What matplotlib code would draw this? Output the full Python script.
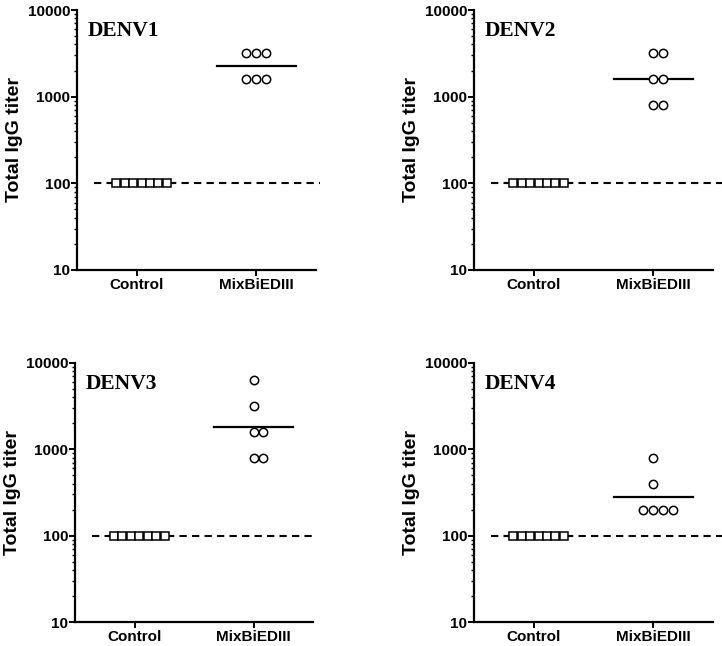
import numpy as np
import matplotlib
matplotlib.use("Agg")
import matplotlib.pyplot as plt
from matplotlib.ticker import FixedLocator, LogLocator, NullFormatter

# data
groups = ["Control", "MixBiEDIII"]
titles = ["DENV1", "DENV2", "DENV3", "DENV4"]
control = [100, 100, 100, 100, 100, 100, 100]
mix_denv1 = [3200, 3200, 3200, 1600, 1600, 1600]
mix_denv2 = [3200, 3200, 1600, 1600, 800, 800]
mix_denv3 = [6400, 3200, 1600, 1600, 800, 800]
mix_denv4 = [800, 400, 200, 200, 200, 200]
cutoff = 100

mixes = [mix_denv1, mix_denv2, mix_denv3, mix_denv4]

plt.rcParams["font.family"] = ["Liberation Sans", "DejaVu Sans"]

fig = plt.figure(figsize=(7.22, 6.46), dpi=100)
W, H = 722, 646
# axes boxes in pixels: left, top, right, bottom
boxes = [(77, 10, 316, 270), (474, 10, 713, 270),
         (75, 363, 313, 622), (474, 363, 713, 622)]
dash_end = [1.53, 2.05, 1.53, 2.05]


def spread(vals, x0, step):
    # GraphPad style: equal values spread sideways
    xs = []
    vals = list(vals)
    done = {}
    for v in vals:
        n = vals.count(v)
        k = done.get(v, 0)
        done[v] = k + 1
        xs.append(x0 + (k - (n - 1) // 2) * step)
    return xs


for i, (title, mix) in enumerate(zip(titles, mixes)):
    l, t, r, b = boxes[i]
    ax = fig.add_axes([l / W, 1 - b / H, (r - l) / W, (b - t) / H])
    ax.set_yscale("log")
    ax.set_ylim(10, 10000)
    ax.set_xlim(-0.5, 1.5)

    ax.plot([-0.36, dash_end[i]], [cutoff, cutoff], color="black", lw=1.5,
            ls=(0, (3.5, 2.5)), clip_on=False, zorder=1)

    # control squares
    xc = spread(control, 0.04, 0.071)
    ax.plot(xc, control, ls="none", marker="s", ms=5.3, mfc="white",
            mec="black", mew=1.1, zorder=3)
    gm = np.exp(np.mean(np.log(control)))
    ax.plot([0.04 - 0.27, 0.04 + 0.27], [gm, gm], color="black", lw=1.5, zorder=2)

    # immunized circles
    xm = spread(mix, 1.0, 0.083)
    ax.plot(xm, mix, ls="none", marker="o", ms=6, mfc="white",
            mec="black", mew=1.1, zorder=3)
    gm = np.exp(np.mean(np.log(mix)))
    ax.plot([1 - 0.33, 1 + 0.33], [gm, gm], color="black", lw=1.6, zorder=2)

    ax.spines["top"].set_visible(False)
    ax.spines["right"].set_visible(False)
    ax.spines["left"].set_linewidth(1.6)
    ax.spines["bottom"].set_linewidth(1.6)

    ax.yaxis.set_major_locator(FixedLocator([10, 100, 1000, 10000]))
    ax.set_yticklabels(["10", "100", "1000", "10000"], fontweight="bold", fontsize=11)
    ax.yaxis.set_minor_locator(LogLocator(base=10, subs=np.arange(2, 10)))
    ax.yaxis.set_minor_formatter(NullFormatter())
    ax.tick_params(axis="y", which="major", length=4, width=1.4, pad=1)
    ax.tick_params(axis="y", which="minor", length=2.5, width=1.0)

    ax.set_xticks([0, 1])
    ax.set_xticklabels(groups, fontweight="bold", fontsize=11)
    ax.tick_params(axis="x", length=4, width=1.4, pad=2)

    ax.set_ylabel("Total IgG titer", fontweight="bold", fontsize=14, labelpad=3)
    ax.text(0.046, 0.92, title, transform=ax.transAxes, family="Liberation Serif",
            fontweight="bold", fontsize=15.5, va="center", ha="left")

fig.savefig("out.png", dpi=100)
